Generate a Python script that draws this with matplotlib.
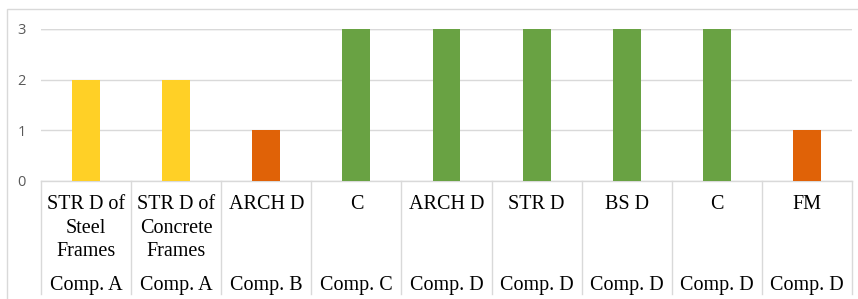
import matplotlib.pyplot as plt
import matplotlib.transforms as mtransforms
from matplotlib.patches import Rectangle

# chart data
items = ["STR D of\nSteel\nFrames", "STR D of\nConcrete\nFrames", "ARCH D", "C",
         "ARCH D", "STR D", "BS D", "C", "FM"]
groups = ["Comp. A", "Comp. A", "Comp. B", "Comp. C", "Comp. D",
          "Comp. D", "Comp. D", "Comp. D", "Comp. D"]
values = [2, 2, 1, 3, 3, 3, 3, 3, 1]
colors = ["#FFD026", "#FFD026", "#E06207", "#69A243", "#69A243",
          "#69A243", "#69A243", "#69A243", "#E06207"]

grid_col = "#D9D9D9"
serif = ["Liberation Serif", "DejaVu Serif"]

fig = plt.figure(figsize=(8.58, 2.99), dpi=100)
W, H = 858, 299
ax = fig.add_axes([41 / W, (H - 181) / H, (852 - 41) / W, (181 - 29) / H])

x = list(range(len(values)))
ax.bar(x, values, width=0.31, color=colors, zorder=3)

ax.set_xlim(-0.5, len(values) - 0.5)
ax.set_ylim(0, 3)
ax.set_yticks([0, 1, 2, 3])
ax.tick_params(axis="y", length=0, pad=11, labelsize=10.5, labelcolor="#595959")
for lab in ax.get_yticklabels():
    lab.set_family(["Open Sans", "DejaVu Sans"])
ax.set_xticks([])
for s in ax.spines.values():
    s.set_visible(False)
ax.grid(axis="y", color=grid_col, linewidth=1, zorder=0)
ax.axhline(3, color=grid_col, linewidth=1, zorder=0)

# multi-level category axis
trans = mtransforms.blended_transform_factory(ax.transData, ax.transAxes)
y_bottom = (181 - 294) / (181 - 29)
for b in range(len(values) + 1):
    ax.plot([b - 0.5, b - 0.5], [0, y_bottom], color=grid_col, linewidth=1,
            transform=trans, clip_on=False)
ax.plot([-0.5, len(values) - 0.5], [0, 0], color=grid_col, linewidth=1,
        transform=trans, clip_on=False)

for i in x:
    ax.text(i, -0.095, items[i], transform=trans, ha="center", va="top",
            fontsize=14.5, family=serif, linespacing=1.3)
    ax.text(i, -0.69, groups[i], transform=trans, ha="center", va="center",
            fontsize=14.5, family=serif)

# outer chart border
fig.patches.append(Rectangle((7 / W, -0.1), 2, (H - 9) / H + 0.1,
                             transform=fig.transFigure, fill=False,
                             edgecolor=grid_col, linewidth=1))

fig.savefig("out.png", dpi=100)
